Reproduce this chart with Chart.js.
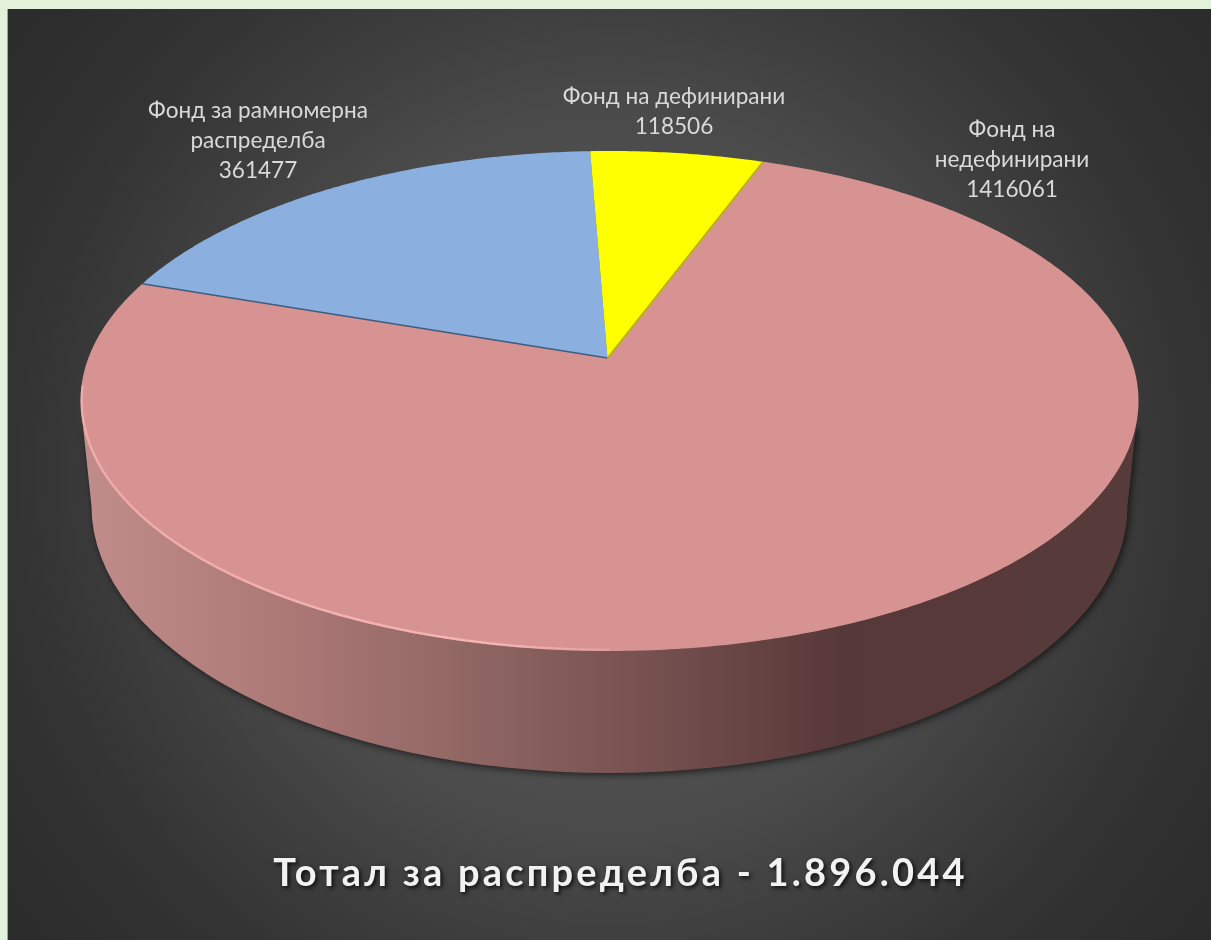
<!DOCTYPE html>
<html>
<head>
<meta charset="utf-8">
<title>Тотал за распределба</title>
<script src="https://cdn.jsdelivr.net/npm/chart.js@4/dist/chart.umd.min.js"></script>
<style>
  html, body { margin: 0; height: 100%; background: #e3f0da; overflow: hidden; }
  #panel {
    position: absolute; left: 7px; top: 9px; right: 0; bottom: 0;
    background: radial-gradient(circle farthest-corner at 50% 50%, #636363 0%, #4a4a4a 48%, #404040 60%, #333333 78%, #2b2b2b 100%);
    border-left: 1px solid #9aa596;
    box-sizing: border-box;
  }
  canvas { position: absolute; left: 0; top: 0; }
</style>
</head>
<body>
<div id="panel"></div>
<canvas id="pie" width="1211" height="940" style="width:1211px;height:940px"></canvas>
<script>
// data
const categories = [["Фонд на", "недефинирани"], ["Фонд за рамномерна", "распределба"], ["Фонд на дефинирани"]];
const values = [1416061, 361477, 118506];
const sliceColors = ["#d79392", "#8bb0df", "#ffff00"];
const chartTitle = "Тотал за распределба - 1.896.044";

// where the labels sit: centre x, y of first line, line height
const labelPlaces = [[1012, 130, 30], [258, 111, 30], [674, 97, 30]];

// shape of the tilted disc
const WIDEN = 529 / 250;     // top ellipse is this much wider than tall
const TILT = -0.172;         // perspective: how far the apex moves up, in radii
const WALL = { dy: 105, rx: 518 / 250, ry: 267 / 250 }; // lower rim of the side wall

// circle point -> point on the tilted top face
function project(arc, angle) {
  const u = Math.cos(angle), v = Math.sin(angle);
  const s = Math.sqrt(1 - TILT * TILT);
  const d = 1 + TILT * v;
  return [
    arc.x + arc.outerRadius * WIDEN * u * s / d,
    arc.y + arc.outerRadius * (v + TILT) / d
  ];
}

function apex(arc) {
  return [arc.x - 2, arc.y + arc.outerRadius * TILT];
}

function drawWall(ctx, arc) {
  const R = arc.outerRadius;
  const cy = arc.y + WALL.dy;
  ctx.save();
  const g = ctx.createLinearGradient(arc.x - R * WIDEN, 0, arc.x + R * WIDEN, 0);
  g.addColorStop(0, "#c08d8b");
  g.addColorStop(0.2, "#ab7876");
  g.addColorStop(0.4, "#8a625f");
  g.addColorStop(0.58, "#6f4b4b");
  g.addColorStop(0.72, "#573838");
  g.addColorStop(1, "#573b3b");
  ctx.fillStyle = g;
  ctx.shadowColor = "rgba(0,0,0,0.6)";
  ctx.shadowBlur = 7;
  ctx.shadowOffsetX = 2;
  ctx.shadowOffsetY = 2;
  ctx.beginPath();
  ctx.moveTo(arc.x - R * WIDEN * 0.995, arc.y + 27);
  ctx.lineTo(arc.x - R * WALL.rx, cy);
  ctx.ellipse(arc.x, cy, R * WALL.rx, R * WALL.ry, 0, Math.PI, 0, true);
  ctx.lineTo(arc.x + R * WIDEN * 0.995, arc.y + 27);
  ctx.closePath();
  ctx.fill();
  ctx.restore();
}

function drawSlice(ctx, arc, color) {
  const [ax, ay] = apex(arc);
  ctx.beginPath();
  ctx.moveTo(ax, ay);
  const steps = Math.ceil((arc.endAngle - arc.startAngle) / 0.01);
  for (let i = 0; i <= steps; i++) {
    const p = project(arc, arc.startAngle + (arc.endAngle - arc.startAngle) * i / steps);
    ctx.lineTo(p[0], p[1]);
  }
  ctx.closePath();
  ctx.fillStyle = color;
  ctx.fill();
}

function drawEdge(ctx, arc, angle, color) {
  const [ax, ay] = apex(arc);
  const p = project(arc, angle);
  ctx.beginPath();
  ctx.moveTo(ax, ay);
  ctx.lineTo(p[0], p[1]);
  ctx.strokeStyle = color;
  ctx.lineWidth = 1.6;
  ctx.stroke();
}

// light bevel along the near left rim of the top face
function drawRim(ctx, arc) {
  const R = arc.outerRadius;
  const g = ctx.createLinearGradient(arc.x - R * WIDEN, 0, arc.x + 60, 0);
  g.addColorStop(0, "rgba(255,190,188,0.55)");
  g.addColorStop(0.7, "rgba(255,190,188,0.8)");
  g.addColorStop(1, "rgba(255,190,188,0)");
  ctx.beginPath();
  ctx.ellipse(arc.x, arc.y, R * WIDEN - 1.2, R - 1.2, 0, Math.PI / 2, Math.PI * 1.02);
  ctx.strokeStyle = g;
  ctx.lineWidth = 2.4;
  ctx.stroke();
}

function drawLabels(ctx) {
  ctx.save();
  ctx.font = "22.6px Lato, 'Open Sans', sans-serif";
  ctx.fillStyle = "#d9d9d9";
  ctx.textAlign = "center";
  ctx.textBaseline = "middle";
  categories.forEach((lines, i) => {
    const [x, y, h] = labelPlaces[i];
    lines.concat(String(values[i])).forEach((line, j) => ctx.fillText(line, x, y + j * h));
  });
  ctx.restore();
}

function drawTitle(ctx) {
  ctx.save();
  ctx.font = "bold 38px Lato, 'Open Sans', sans-serif";
  ctx.letterSpacing = "3.2px";
  ctx.fillStyle = "#f2f2f2";
  ctx.textAlign = "center";
  ctx.textBaseline = "middle";
  ctx.shadowColor = "rgba(0,0,0,0.8)";
  ctx.shadowBlur = 4;
  ctx.shadowOffsetX = 2;
  ctx.shadowOffsetY = 2;
  ctx.fillText(chartTitle, 620.5, 874);
  ctx.restore();
}

// Chart.js works out the slice angles, this only draws them tilted
const tiltedPie = {
  id: "tiltedPie",
  beforeDatasetsDraw(chart) {
    const ctx = chart.ctx;
    const arcs = chart.getDatasetMeta(0).data;
    const first = arcs[0];
    drawWall(ctx, first);
    arcs.forEach((arc, i) => drawSlice(ctx, arc, sliceColors[i]));
    drawEdge(ctx, arcs[1], arcs[1].startAngle, "#3f5d80");
    drawEdge(ctx, arcs[2], arcs[2].endAngle, "#b5b500");
    drawRim(ctx, first);
    drawLabels(ctx);
    drawTitle(ctx);
    return false;
  }
};

new Chart(document.getElementById("pie"), {
  type: "pie",
  data: {
    labels: categories,
    datasets: [{ data: values, backgroundColor: sliceColors, borderWidth: 0 }]
  },
  options: {
    responsive: false,
    animation: false,
    rotation: 20,
    layout: { padding: { top: 151, bottom: 289, left: 8, right: 0 } },
    plugins: { legend: { display: false }, title: { display: false }, tooltip: { enabled: false } }
  },
  plugins: [tiltedPie]
});
</script>
</body>
</html>
